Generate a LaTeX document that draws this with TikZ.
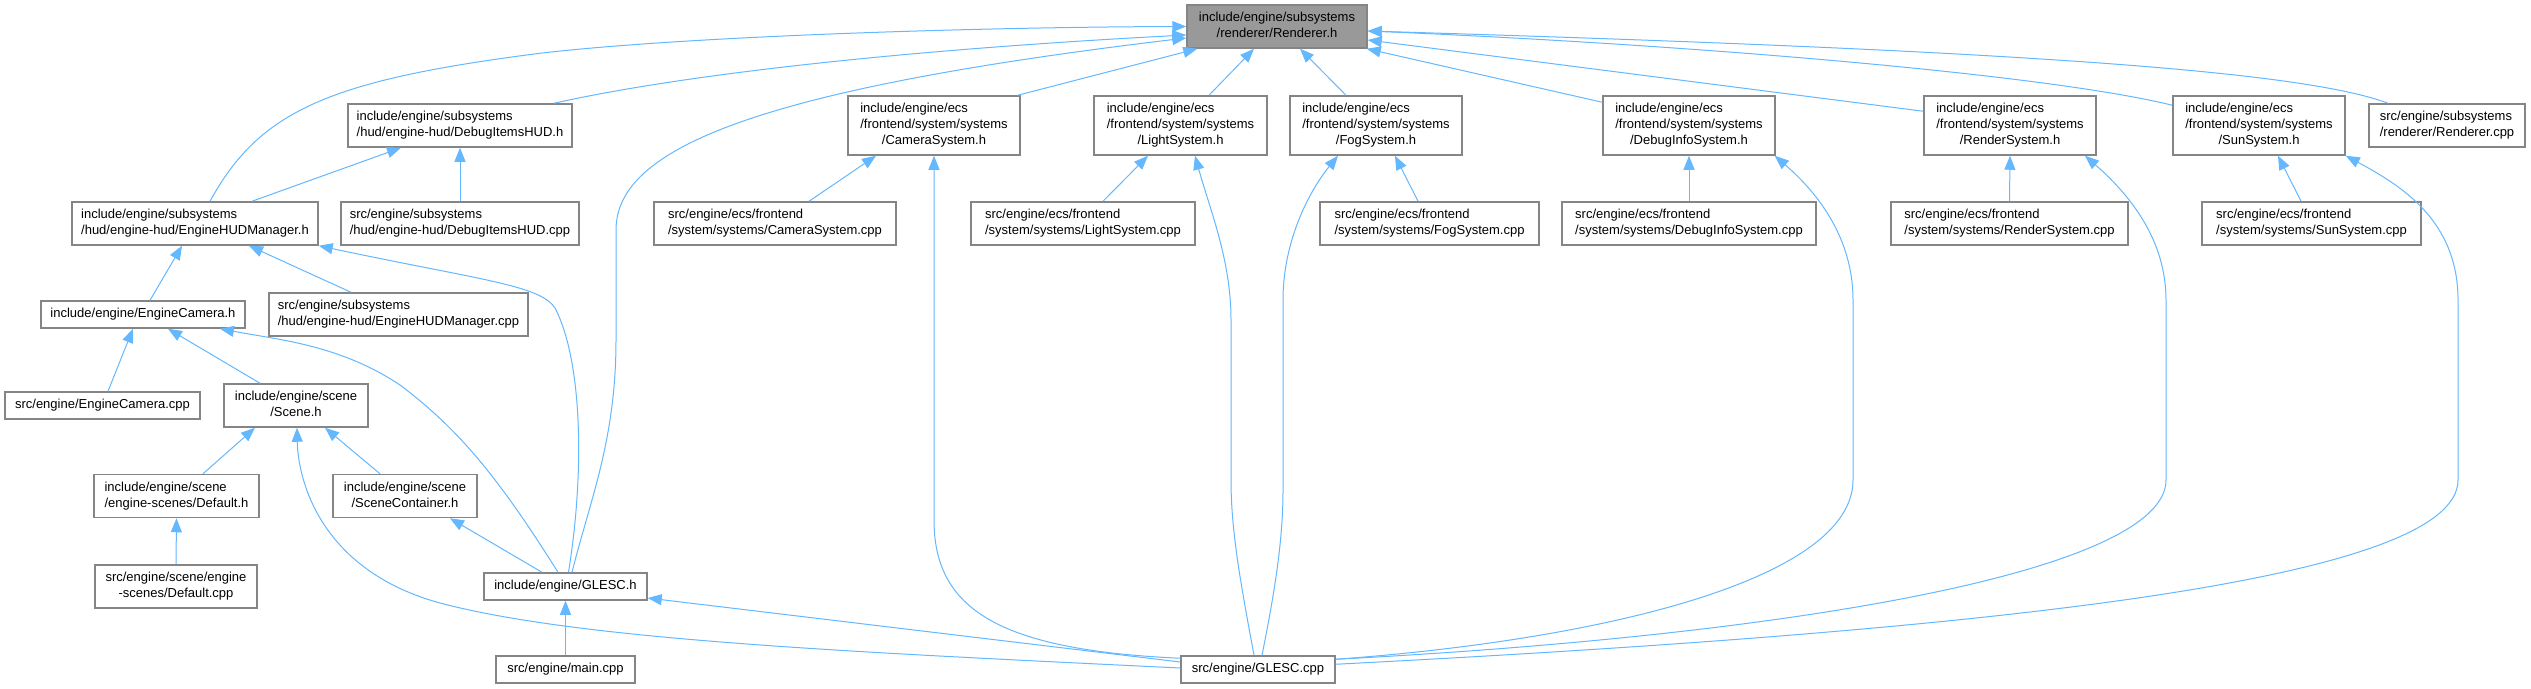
\documentclass[tikz,border=0pt]{standalone}
\usepackage{fontspec}
\setmainfont{Liberation Sans}
\usetikzlibrary{arrows.meta}
\definecolor{edgecol}{HTML}{63B8FF}
\definecolor{nodeborder}{HTML}{858585}
\definecolor{rootfill}{HTML}{999999}
\newcommand{\twoline}[2]{\begin{tabular}{@{}l@{}}#1\\\multicolumn{1}{@{}c@{}}{#2}\end{tabular}}
\begin{document}
\begin{tikzpicture}[x=1pt,y=-1pt,
  box/.style={draw=nodeborder, line width=1.5pt, fill=white, inner sep=0pt,
    font=\fontsize{13}{16}\selectfont, text=black},
  root/.style={box, fill=rootfill},
  dep/.style={draw=edgecol, line width=1pt, -{Triangle[length=14pt,width=11pt]}}]
\fill[white] (0,0) rectangle (2531,688);
\useasboundingbox (0,0) rectangle (2531,688);

% nodes
\node[root, minimum width=180pt, minimum height=43pt] (R) at (1277,26.5) {\twoline{include/engine/subsystems}{/renderer/Renderer.h}};
\node[box, minimum width=224pt, minimum height=43pt] (DIH) at (460,125.5) {\twoline{include/engine/subsystems}{/hud/engine-hud/DebugItemsHUD.h}};
\node[box, minimum width=246pt, minimum height=43pt] (EHM) at (195,223.5) {\twoline{include/engine/subsystems}{/hud/engine-hud/EngineHUDManager.h}};
\node[box, minimum width=238pt, minimum height=43pt] (DIC) at (460,223.5) {\twoline{src/engine/subsystems}{/hud/engine-hud/DebugItemsHUD.cpp}};
\node[box, minimum width=204pt, minimum height=27pt] (EC) at (143,314.5) {include/engine/EngineCamera.h};
\node[box, minimum width=259pt, minimum height=43pt] (EHMC) at (398.5,314.5) {\twoline{src/engine/subsystems}{/hud/engine-hud/EngineHUDManager.cpp}};
\node[box, minimum width=195pt, minimum height=27pt] (ECC) at (102.5,405.5) {src/engine/EngineCamera.cpp};
\node[box, minimum width=144pt, minimum height=43pt] (SC) at (296,405.5) {\twoline{include/engine/scene}{/Scene.h}};
\node[box, minimum width=165pt, minimum height=43pt] (DH) at (176.5,496) {\twoline{include/engine/scene}{/engine-scenes/Default.h}};
\node[box, minimum width=144pt, minimum height=43pt] (SCC) at (405,496) {\twoline{include/engine/scene}{/SceneContainer.h}};
\node[box, minimum width=162pt, minimum height=43pt] (DC) at (176,586.5) {\twoline{src/engine/scene/engine}{-scenes/Default.cpp}};
\node[box, minimum width=163pt, minimum height=27pt] (GH) at (565.5,586.5) {include/engine/GLESC.h};
\node[box, minimum width=139pt, minimum height=27pt] (MC) at (565.5,669.5) {src/engine/main.cpp};
\node[box, minimum width=154pt, minimum height=27pt] (GC) at (1258,669.5) {src/engine/GLESC.cpp};
\node[box, minimum width=172pt, minimum height=59pt] (CSH) at (934,125.5) {\twoline{include/engine/ecs\\/frontend/system/systems}{/CameraSystem.h}};
\node[box, minimum width=173pt, minimum height=59pt] (LSH) at (1180.5,125.5) {\twoline{include/engine/ecs\\/frontend/system/systems}{/LightSystem.h}};
\node[box, minimum width=172pt, minimum height=59pt] (FSH) at (1376,125.5) {\twoline{include/engine/ecs\\/frontend/system/systems}{/FogSystem.h}};
\node[box, minimum width=172pt, minimum height=59pt] (DISH) at (1689,125.5) {\twoline{include/engine/ecs\\/frontend/system/systems}{/DebugInfoSystem.h}};
\node[box, minimum width=172pt, minimum height=59pt] (RSH) at (2010,125.5) {\twoline{include/engine/ecs\\/frontend/system/systems}{/RenderSystem.h}};
\node[box, minimum width=172pt, minimum height=59pt] (SSH) at (2259,125.5) {\twoline{include/engine/ecs\\/frontend/system/systems}{/SunSystem.h}};
\node[box, minimum width=156pt, minimum height=43pt] (RC) at (2447,125.5) {\twoline{src/engine/subsystems}{/renderer/Renderer.cpp}};
\node[box, minimum width=242pt, minimum height=43pt] (CSC) at (775,223.5) {\twoline{src/engine/ecs/frontend}{/system/systems/CameraSystem.cpp}};
\node[box, minimum width=224pt, minimum height=43pt] (LSC) at (1083,223.5) {\twoline{src/engine/ecs/frontend}{/system/systems/LightSystem.cpp}};
\node[box, minimum width=219pt, minimum height=43pt] (FSC) at (1429.5,223.5) {\twoline{src/engine/ecs/frontend}{/system/systems/FogSystem.cpp}};
\node[box, minimum width=254pt, minimum height=43pt] (DISC) at (1689,223.5) {\twoline{src/engine/ecs/frontend}{/system/systems/DebugInfoSystem.cpp}};
\node[box, minimum width=237pt, minimum height=43pt] (RSC) at (2009.5,223.5) {\twoline{src/engine/ecs/frontend}{/system/systems/RenderSystem.cpp}};
\node[box, minimum width=219pt, minimum height=43pt] (SSC) at (2311.5,223.5) {\twoline{src/engine/ecs/frontend}{/system/systems/SunSystem.cpp}};

% edges to Renderer.h
\draw[dep] ([xshift=15pt]EHM.north) .. controls (260,110) and (330,80) .. (542,53) .. controls (700,35) and (1000,27) .. (R.west);
\draw[dep] ([xshift=94pt]DIH.north) .. controls (680,75) and (900,50) .. ([yshift=-8.5pt]R.west);
\draw[dep] ([xshift=6.5pt]GH.north) .. controls (590,500) and (616,440) .. (616,340) -- (616,230) .. controls (616,150) and (750,90) .. ([yshift=-11.5pt]R.west);
\draw[dep] ([xshift=-3pt]CSH.north east) -- ([xshift=11pt]R.south west);
\draw[dep] ([xshift=28.5pt]LSH.north) -- ([xshift=-23pt]R.south);
\draw[dep] ([xshift=-30pt]FSH.north) -- ([xshift=23pt]R.south);
\draw[dep] ([yshift=-7pt]DISH.north west) -- ([xshift=-1pt]R.south east);
\draw[dep] ([yshift=-16pt]RSH.north west) -- ([yshift=-13.5pt]R.east);
\draw[dep] ([yshift=-10pt]SSH.north west) .. controls (2050,75) and (1700,45) .. ([yshift=-4.5pt]R.east);
\draw[dep] ([xshift=-59pt]RC.north) .. controls (2300,70) and (2000,50) .. ([yshift=-4.5pt]R.east);

% left part
\draw[dep] ([xshift=57pt]EHM.north) -- ([xshift=-59pt]DIH.south);
\draw[dep] (DIC.north) -- (DIH.south);
\draw[dep] ([xshift=7pt]EC.north) -- ([xshift=-13pt]EHM.south);
\draw[dep] ([xshift=-47.5pt]EHMC.north) -- ([xshift=54pt]EHM.south);
\draw[dep] ([xshift=3pt]GH.north) .. controls (585,470) and (582,360) .. (555,308) .. controls (540,285) and (480,280) .. (EHM.south east);
\draw[dep] ([xshift=5.5pt]ECC.north) -- ([xshift=-10pt]EC.south);
\draw[dep] ([xshift=-36pt]SC.north) -- ([xshift=25pt]EC.south);
\draw[dep] ([xshift=-7.5pt]GH.north) .. controls (500,480) and (460,430) .. (400,385) .. controls (340,345) and (280,340) .. ([xshift=77pt]EC.south);
\draw[dep] ([xshift=26.5pt]DH.north) -- ([xshift=-41pt]SC.south);
\draw[dep] ([xshift=-25pt]SCC.north) -- ([xshift=29pt]SC.south);
\draw[dep] ([yshift=1.5pt]GC.west) .. controls (850,652) and (580,640) .. (440,603) .. controls (320,570) and (298,480) .. ([xshift=1pt]SC.south);
\draw[dep] (DC.north) -- (DH.south);
\draw[dep] ([xshift=-23.5pt]GH.north) -- ([xshift=45pt]SCC.south);
\draw[dep] (MC.north) -- (GH.south);
\draw[dep] ([yshift=7.5pt]GC.west) -- ([yshift=-11.5pt]GH.east);

% systems
\draw[dep] ([xshift=34pt]CSC.north) -- ([xshift=-58pt]CSH.south);
\draw[dep] ([yshift=-3pt]GC.north west) .. controls (1000,650) and (934,610) .. (934,520) -- (CSH.south);
\draw[dep] ([xshift=20pt]LSC.north) -- ([xshift=-32.5pt]LSH.south);
\draw[dep] ([xshift=-4pt]GC.north) .. controls (1240,580) and (1231,530) .. (1231,480) -- (1231,320) .. controls (1231,260) and (1210,210) .. ([xshift=14.5pt]LSH.south);
\draw[dep] ([xshift=-11.5pt]FSC.north) -- ([xshift=19pt]FSH.south);
\draw[dep] ([xshift=4pt]GC.north) .. controls (1275,590) and (1283,540) .. (1283,490) -- (1283,300) .. controls (1283,240) and (1310,190) .. ([xshift=-38pt]FSH.south);
\draw[dep] (DISC.north) -- (DISH.south);
\draw[dep] ([yshift=-4pt]GC.north east) .. controls (1600,640) and (1853,580) .. (1853,480) -- (1853,300) .. controls (1853,240) and (1820,195) .. ([xshift=-1pt]DISH.south east);
\draw[dep] (RSC.north) -- (RSH.south);
\draw[dep] ([yshift=-4pt]GC.north east) .. controls (1800,635) and (2166,570) .. (2166,480) -- (2166,300) .. controls (2166,240) and (2130,195) .. ([xshift=75pt]RSH.south);
\draw[dep] ([xshift=-10.5pt]SSC.north) -- ([xshift=19pt]SSH.south);
\draw[dep] ([yshift=-9pt]GC.north east) .. controls (2000,630) and (2458,580) .. (2458,480) -- (2458,300) .. controls (2458,220) and (2400,185) .. (SSH.south east);
\end{tikzpicture}
\end{document}
